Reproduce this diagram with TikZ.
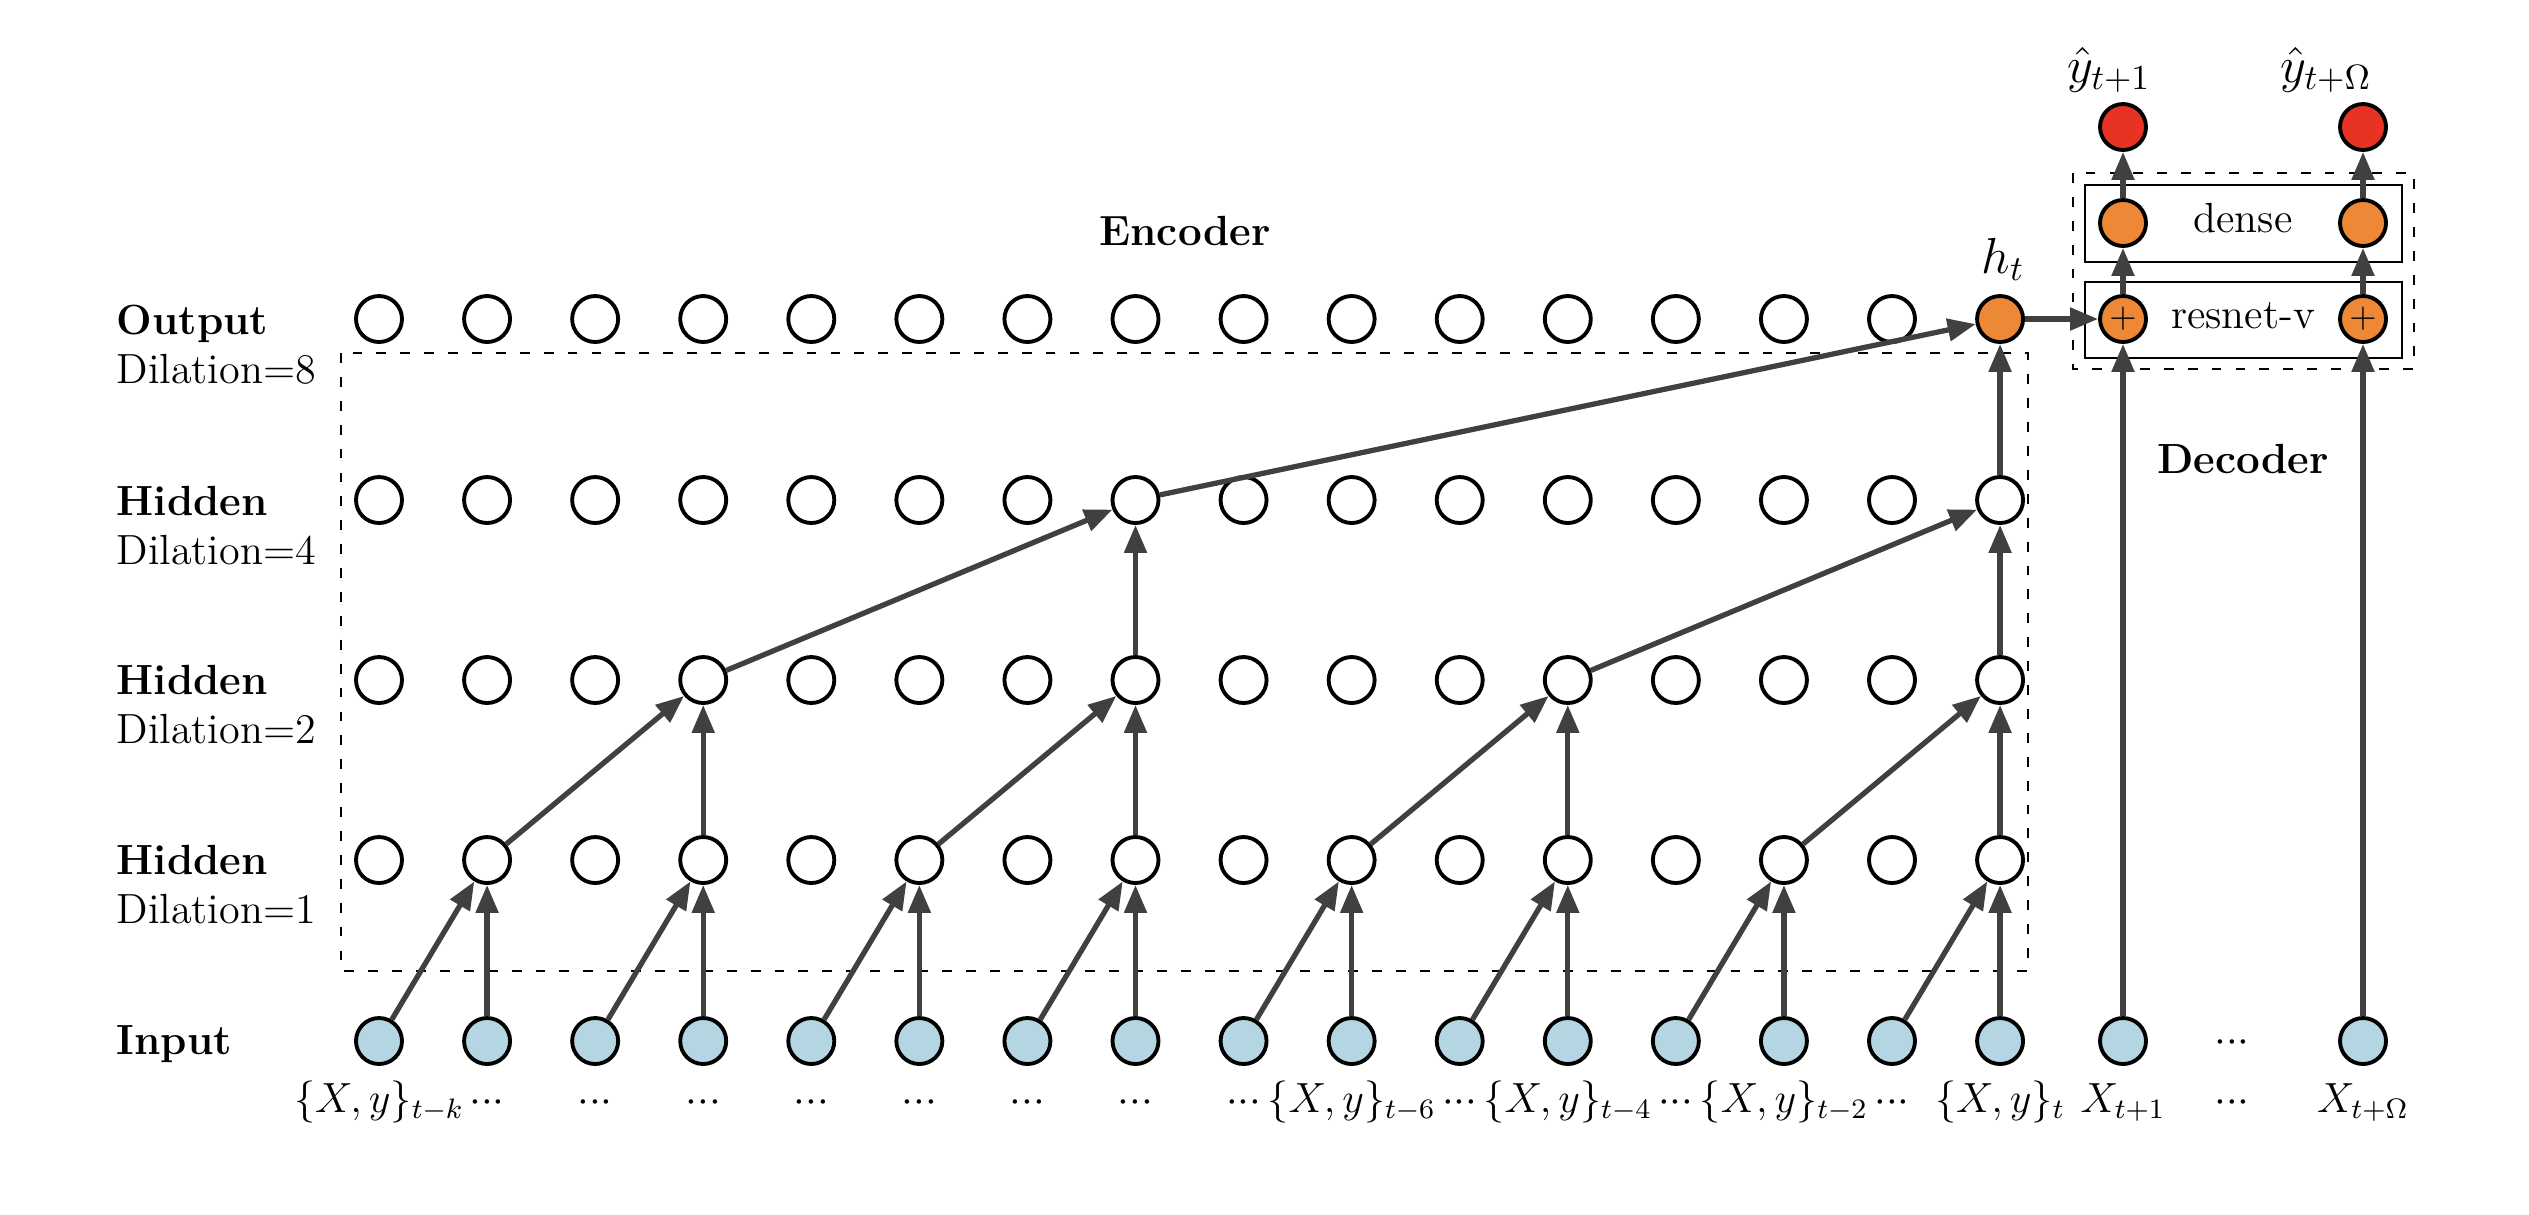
\documentclass[tikz,border=0pt,12pt]{standalone}
\usepackage{xcolor}
\definecolor{inblue}{HTML}{B4D6E3}
\definecolor{hidorange}{HTML}{ED8936}
\definecolor{outred}{HTML}{E63323}
\definecolor{linkgray}{HTML}{404040}
\usepackage{amsmath,amssymb}
\usepackage{tikz}
\usetikzlibrary{arrows.meta, positioning, calc}
\newcommand{\gapdots}{\ensuremath{{\cdotp}{\cdotp}{\cdotp}}}

\begin{document}
\begin{tikzpicture}[
  unit/.style={
    circle, draw=black, line width=1.1pt, fill=white,
    inner sep=0pt, minimum size=0.46cm
  },
  inunit/.style={unit, fill=inblue},
  hunit/.style={unit, fill=hidorange},
  yunit/.style={unit, fill=outred},
  link/.style={-{Triangle[length=2.8mm,width=2.2mm]}, linkgray, line width=1.5pt},
  group/.style={draw=black, line width=0.5pt, dash pattern=on 2.8pt off 4pt},
  layer/.style={draw=black, line width=0.6pt},
  rowname/.style={anchor=base west, inner sep=0pt}
]
  \useasboundingbox (0,0) rectangle (25.29,-12.14);

  % encoder
  \draw[group] (3.41,-3.53) rectangle (20.28,-9.71);
  \node[font=\bfseries, anchor=base] (enc) at (11.85,-2.45) {Encoder};

  \node[rowname, font=\bfseries] (nout) at (1.16,-3.34) {Output};
  \node[rowname] (dout) at (1.16,-3.83) {Dilation=8};
  \node[rowname, font=\bfseries] (nh4) at (1.16,-5.15) {Hidden};
  \node[rowname] (dh4) at (1.16,-5.64) {Dilation=4};
  \node[rowname, font=\bfseries] (nh2) at (1.16,-6.94) {Hidden};
  \node[rowname] (dh2) at (1.16,-7.43) {Dilation=2};
  \node[rowname, font=\bfseries] (nh1) at (1.16,-8.74) {Hidden};
  \node[rowname] (dh1) at (1.16,-9.23) {Dilation=1};
  \node[rowname, font=\bfseries] (nin) at (1.16,-10.54) {Input};

  \foreach \i in {0,...,15} {
    \node[inunit] (x-\i) at (3.79+1.0807*\i,-10.41) {};
    \node[unit] (d1-\i) at (3.79+1.0807*\i,-8.60) {};
    \node[unit] (d2-\i) at (3.79+1.0807*\i,-6.80) {};
    \node[unit] (d4-\i) at (3.79+1.0807*\i,-5.00) {};
  }
  \foreach \i in {0,...,14}
    \node[unit] (o-\i) at (3.79+1.0807*\i,-3.19) {};
  \node[hunit] (o-15) at (3.79+1.0807*15,-3.19) {};
  \node[anchor=base, font=\large] (ht) at (20.03,-2.73) {$h_t$};

  % time stamps under the inputs
  \foreach \i in {1,...,8,10,12,14}
    \node[anchor=base] (lab-\i) at ($(x-\i.center)+(0,-0.71)$) {\gapdots};
  \node[anchor=base] (lab-0) at ($(x-0.center)+(0,-0.71)$) {$\{X,y\}_{t-k}$};
  \node[anchor=base] (lab-9) at ($(x-9.center)+(0,-0.71)$) {$\{X,y\}_{t-6}$};
  \node[anchor=base] (lab-11) at ($(x-11.center)+(0,-0.71)$) {$\{X,y\}_{t-4}$};
  \node[anchor=base] (lab-13) at ($(x-13.center)+(0,-0.71)$) {$\{X,y\}_{t-2}$};
  \node[anchor=base] (lab-15) at ($(x-15.center)+(0,-0.71)$) {$\{X,y\}_{t}$};

  % dilated links
  \foreach \j in {0,...,7} {
    \pgfmathtruncatemacro{\a}{2*\j}
    \pgfmathtruncatemacro{\b}{2*\j+1}
    \draw[link] (x-\a) -- (d1-\b);
    \draw[link] (x-\b) -- (d1-\b);
  }
  \foreach \j in {0,...,3} {
    \pgfmathtruncatemacro{\a}{4*\j+1}
    \pgfmathtruncatemacro{\b}{4*\j+3}
    \draw[link] (d1-\a) -- (d2-\b);
    \draw[link] (d1-\b) -- (d2-\b);
  }
  \foreach \j in {0,1} {
    \pgfmathtruncatemacro{\a}{8*\j+3}
    \pgfmathtruncatemacro{\b}{8*\j+7}
    \draw[link] (d2-\a) -- (d4-\b);
    \draw[link] (d2-\b) -- (d4-\b);
  }
  \draw[link] (d4-7) -- (o-15);
  \draw[link] (d4-15) -- (o-15);

  % decoder
  \draw[group] (20.73,-1.73) rectangle (24.14,-3.69);
  \draw[layer] (20.85,-1.85) rectangle (24.02,-2.62);
  \draw[layer] (20.85,-2.82) rectangle (24.02,-3.58);
  \node[anchor=base] (dense) at (22.43,-2.32) {dense};
  \node[anchor=base] (resv) at (22.43,-3.28) {resnet-v};
  \node[font=\bfseries, anchor=base] (dec) at (22.43,-4.73) {Decoder};

  \node[hunit, font=\footnotesize] (res-1) at (21.23,-3.19) {$+$};
  \node[hunit, font=\footnotesize] (res-o) at (23.63,-3.19) {$+$};
  \node[hunit] (den-1) at (21.23,-2.23) {};
  \node[hunit] (den-o) at (23.63,-2.23) {};
  \node[yunit] (y-1) at (21.23,-1.27) {};
  \node[yunit] (y-o) at (23.63,-1.27) {};
  \node[font=\large] (yl-1) at (21.09,-0.70) {$\hat{y}_{t+1}$};
  \node[font=\large] (yl-o) at (23.26,-0.70) {$\hat{y}_{t+\Omega}$};

  \node[inunit] (xf-1) at (21.23,-10.41) {};
  \node[inunit] (xf-o) at (23.63,-10.41) {};
  \node[anchor=base] (xdots) at (22.32,-10.52) {\gapdots};
  \node[anchor=base] (lab-f1) at ($(xf-1.center)+(0,-0.71)$) {$X_{t+1}$};
  \node[anchor=base] (lab-fd) at (22.32,-11.12) {\gapdots};
  \node[anchor=base] (lab-fo) at ($(xf-o.center)+(0,-0.71)$) {$X_{t+\Omega}$};

  \draw[link] (o-15) -- (res-1);
  \draw[link] (xf-1) -- (res-1);
  \draw[link] (xf-o) -- (res-o);
  \draw[link] (res-1) -- (den-1);
  \draw[link] (res-o) -- (den-o);
  \draw[link] (den-1) -- (y-1);
  \draw[link] (den-o) -- (y-o);
\end{tikzpicture}
\end{document}
